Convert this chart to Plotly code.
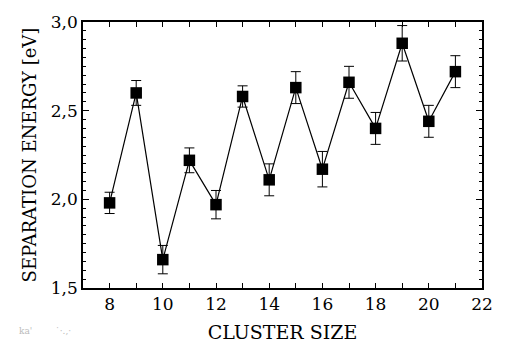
import plotly.graph_objects as go

cluster_size = [8, 9, 10, 11, 12, 13, 14, 15, 16, 17, 18, 19, 20, 21]
energy = [1.98, 2.60, 1.66, 2.22, 1.97, 2.58, 2.11, 2.63, 2.17, 2.66, 2.40, 2.88, 2.44, 2.72]
error = [0.06, 0.07, 0.08, 0.07, 0.08, 0.06, 0.09, 0.09, 0.10, 0.09, 0.09, 0.10, 0.09, 0.09]

x_label = "CLUSTER SIZE"
y_label = "SEPARATION ENERGY [eV]"

font = "DejaVu Serif"

fig = go.Figure()
fig.add_trace(go.Scatter(
    x=cluster_size, y=energy,
    mode="lines+markers",
    line=dict(color="black", width=1.2),
    marker=dict(symbol="square", size=11.5, color="black"),
    error_y=dict(type="data", array=error, visible=True, color="black", thickness=1, width=5),
    showlegend=False,
))

axis_common = dict(
    showgrid=False, zeroline=False, showline=True, linecolor="black", linewidth=1.5,
    mirror="allticks", ticks="inside", tickcolor="black",
    tickfont=dict(family=font, size=17, color="black"),
)

fig.update_xaxes(
    range=[7, 22], tick0=8, dtick=2, ticklen=5, tickwidth=1,
    minor=dict(dtick=1, ticks="inside", ticklen=5, tickcolor="black", tickwidth=1),
    title=dict(text=x_label, font=dict(family=font, size=19, color="black"), standoff=13),
    **axis_common,
)
fig.update_yaxes(
    range=[1.5, 3.0], tick0=1.5, dtick=0.5, tickformat=".1f", ticklen=6, tickwidth=1,
    minor=dict(dtick=0.05, ticks="inside", ticklen=3, tickcolor="black", tickwidth=1),
    title=dict(text=y_label, font=dict(family=font, size=18, color="black"), standoff=10),
    **axis_common,
)

fig.add_annotation(
    x=-0.165, y=-0.163, xref="paper", yref="paper", showarrow=False,
    xanchor="left", yanchor="middle",
    text="ka'&nbsp;&nbsp;&nbsp;&nbsp;&nbsp;&nbsp;&nbsp;&nbsp;˙·.,·",
    font=dict(family=font, size=9, color="#bbbbbb"),
)

fig.update_layout(
    width=505, height=352,
    margin=dict(l=83, r=13, t=17, b=59),
    paper_bgcolor="white", plot_bgcolor="white",
    separators=",.",
    font=dict(family=font),
)

fig.write_html("out.html")
